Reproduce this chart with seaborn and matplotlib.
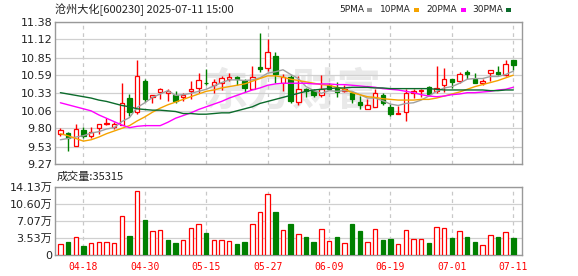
import numpy as np
import matplotlib
matplotlib.use("Agg")
import matplotlib.pyplot as plt
import seaborn as sns
from matplotlib.patches import Rectangle

# ---------------- data ----------------
dates = ["04-15", "04-16", "04-17", "04-18", "04-21", "04-22", "04-23", "04-24", "04-25",
         "04-28", "04-29", "04-30",
         "05-06", "05-07", "05-08", "05-09", "05-12", "05-13", "05-14", "05-15", "05-16",
         "05-19", "05-20", "05-21", "05-22", "05-23", "05-26", "05-27", "05-28", "05-29", "05-30",
         "06-03", "06-04", "06-05", "06-06", "06-09", "06-10", "06-11", "06-12", "06-13",
         "06-16", "06-17", "06-18", "06-19", "06-20", "06-23", "06-24", "06-25", "06-26", "06-27",
         "06-30",
         "07-01", "07-02", "07-03", "07-04", "07-07", "07-08", "07-09", "07-10", "07-11"]

opens = [9.72, 9.73, 9.54, 9.78, 9.68, 9.80, 9.86, 9.82, 9.85, 10.25, 10.05, 10.51, 10.27, 10.34,
         10.33, 10.29, 10.27, 10.36, 10.40, 10.48, 10.45, 10.47, 10.54, 10.56, 10.50, 10.39, 10.71,
         10.70, 10.87, 10.48, 10.57, 10.19, 10.39, 10.35, 10.29, 10.45, 10.40, 10.36, 10.33, 10.19,
         10.09, 10.12, 10.30, 10.12, 10.02, 10.04, 10.32, 10.36, 10.42, 10.35, 10.44, 10.54, 10.50,
         10.63, 10.53, 10.48, 10.62, 10.63, 10.59, 10.82]
closes = [9.78, 9.66, 9.79, 9.69, 9.74, 9.86, 9.88, 9.87, 10.17, 10.05, 10.58, 10.23, 10.29, 10.38,
          10.35, 10.21, 10.29, 10.39, 10.52, 10.47, 10.49, 10.55, 10.57, 10.53, 10.40, 10.56, 10.68,
          10.94, 10.60, 10.56, 10.21, 10.38, 10.35, 10.29, 10.39, 10.39, 10.34, 10.39, 10.23, 10.15,
          10.15, 10.32, 10.18, 10.02, 10.03, 10.32, 10.36, 10.37, 10.31, 10.40, 10.54, 10.49, 10.61,
          10.61, 10.48, 10.50, 10.66, 10.61, 10.75, 10.74]
highs = [9.80, 9.74, 9.87, 9.82, 9.82, 9.87, 9.95, 9.90, 10.47, 10.31, 10.82, 10.54, 10.30, 10.40,
         10.38, 10.35, 10.32, 10.50, 10.62, 10.68, 10.54, 10.58, 10.62, 10.58, 10.53, 10.73, 11.22,
         11.12, 10.93, 10.60, 10.59, 10.58, 10.40, 10.38, 10.59, 10.48, 10.49, 10.44, 10.35, 10.28,
         10.23, 10.39, 10.32, 10.16, 10.13, 10.38, 10.39, 10.38, 10.43, 10.72, 10.69, 10.54, 10.64,
         10.66, 10.62, 10.54, 10.67, 10.72, 10.81, 10.82]
lows = [9.69, 9.46, 9.54, 9.66, 9.66, 9.72, 9.85, 9.79, 9.85, 9.98, 10.01, 10.19, 10.17, 10.23,
        10.21, 10.17, 10.21, 10.23, 10.32, 10.45, 10.32, 10.37, 10.50, 10.45, 10.34, 10.38, 10.64,
        10.65, 10.48, 10.35, 10.17, 10.15, 10.26, 10.27, 10.26, 10.38, 10.27, 10.34, 10.17, 10.09,
        10.09, 10.12, 10.14, 9.99, 10.02, 9.91, 10.25, 10.27, 10.29, 10.32, 10.34, 10.40, 10.48,
        10.53, 10.47, 10.44, 10.50, 10.59, 10.58, 10.66]

ma5 = [9.63, 9.65, 9.67, 9.69, 9.73, 9.75, 9.79, 9.81, 9.90, 9.96, 10.11, 10.18, 10.26, 10.31,
       10.36, 10.29, 10.30, 10.32, 10.35, 10.38, 10.43, 10.48, 10.52, 10.52, 10.51, 10.52, 10.55,
       10.62, 10.64, 10.67, 10.60, 10.54, 10.42, 10.36, 10.32, 10.36, 10.35, 10.36, 10.35, 10.30,
       10.25, 10.25, 10.21, 10.16, 10.14, 10.17, 10.18, 10.22, 10.28, 10.35, 10.40, 10.42, 10.47,
       10.53, 10.54, 10.54, 10.57, 10.57, 10.60, 10.65]
ma10 = [9.72, 9.69, 9.65, 9.61, 9.63, 9.67, 9.72, 9.76, 9.80, 9.84, 9.91, 9.97, 10.04, 10.10,
        10.15, 10.19, 10.23, 10.27, 10.31, 10.35, 10.37, 10.40, 10.42, 10.44, 10.46, 10.50, 10.54,
        10.58, 10.58, 10.56, 10.53, 10.51, 10.49, 10.47, 10.45, 10.44, 10.41, 10.38, 10.33, 10.30,
        10.27, 10.26, 10.24, 10.23, 10.22, 10.22, 10.22, 10.23, 10.23, 10.25, 10.28, 10.31, 10.34,
        10.38, 10.42, 10.45, 10.48, 10.51, 10.55, 10.59]
ma20 = [10.18, 10.15, 10.12, 10.09, 10.06, 10.00, 9.95, 9.90, 9.85, 9.81, 9.83, 9.84, 9.84, 9.84,
        9.89, 9.95, 9.99, 10.03, 10.08, 10.12, 10.16, 10.20, 10.25, 10.29, 10.33, 10.37, 10.40,
        10.44, 10.46, 10.47, 10.47, 10.47, 10.47, 10.46, 10.46, 10.46, 10.45, 10.45, 10.44, 10.43,
        10.42, 10.41, 10.39, 10.38, 10.37, 10.35, 10.33, 10.30, 10.28, 10.27, 10.28, 10.30, 10.31,
        10.33, 10.33, 10.34, 10.35, 10.37, 10.38, 10.41]
ma30 = [10.33, 10.31, 10.29, 10.27, 10.25, 10.22, 10.20, 10.17, 10.14, 10.12, 10.09, 10.08, 10.07,
        10.07, 10.06, 10.05, 10.02, 10.02, 10.01, 10.01, 10.02, 10.03, 10.03, 10.06, 10.09, 10.12,
        10.17, 10.20, 10.23, 10.26, 10.29, 10.32, 10.35, 10.37, 10.38, 10.39, 10.40, 10.40, 10.41,
        10.41, 10.41, 10.40, 10.40, 10.39, 10.39, 10.39, 10.39, 10.39, 10.39, 10.38, 10.37, 10.37,
        10.37, 10.37, 10.37, 10.37, 10.36, 10.36, 10.37, 10.37]

# volume in 万 (10k shares); 1 = up day (red, hollow), 0 = down day (green, filled)
volume = [2.30, 2.71, 3.76, 1.88, 2.51, 2.64, 2.64, 2.51, 8.07, 3.97, 13.36, 7.31, 4.94, 5.15,
          3.06, 2.51, 3.06, 5.57, 6.40, 4.59, 3.06, 3.06, 2.85, 2.30, 2.71, 6.40, 8.91, 12.67, 8.98,
          5.15, 6.47, 4.32, 3.76, 2.71, 5.36, 2.85, 3.76, 2.44, 6.47, 5.01, 2.64, 5.36, 3.13, 3.34,
          2.23, 5.15, 3.27, 3.27, 2.51, 5.78, 5.57, 3.55, 4.94, 3.76, 2.71, 2.02, 4.11, 3.76, 4.73,
          3.5315]
vol_up = [1, 0, 1, 0, 1, 1, 1, 1, 1, 0, 1, 0, 1, 1, 0, 0, 1, 1, 1, 0, 1, 1, 1, 0, 0, 1, 1, 1, 0, 1,
          0, 1, 0, 0, 1, 1, 0, 1, 0, 0, 1, 1, 0, 0, 1, 1, 1, 1, 0, 1, 1, 0, 1, 0, 0, 1, 1, 0, 1, 0]

price_ticks = [11.38, 11.12, 10.85, 10.59, 10.33, 10.06, 9.80, 9.53, 9.27]
price_labels = ["11.38", "11.12", "10.85", "10.59", "10.33", "10.06", "9.80", "9.53", "9.27"]
vol_ticks = [0, 3.53, 7.07, 10.60, 14.13]
vol_labels = ["0", "3.53万", "7.07万", "10.60万", "14.13万"]
date_ticks = ["04-18", "04-30", "05-15", "05-27", "06-09", "06-19", "07-01", "07-11"]

title = "沧州大化[600230] 2025-07-11 15:00"
vol_title = "成交量:35315"
ma_names = ["5PMA", "10PMA", "20PMA", "30PMA"]

# ---------------- style ----------------
sns.set_theme(style="white")
plt.rcParams["font.family"] = ["DejaVu Sans", "Noto Sans CJK SC"]

RED = "#ff0000"
GREEN = "#008000"
MA_COLORS = ["#a0a0a0", "#f5a300", "#ff00ff", "#0b6b2b"]
GRID = "#d0d0d0"
FRAME = "#999999"
TXT = "#222222"

W, H = 578, 276
fig = plt.figure(figsize=(W / 100, H / 100), dpi=100)
fig.patch.set_facecolor("white")

ax = fig.add_axes([55 / W, 1 - 164 / H, (522 - 55) / W, (164 - 22) / H])
axv = fig.add_axes([55 / W, 1 - 255 / H, (522 - 55) / W, (255 - 187) / H])

o = np.array(opens); c = np.array(closes); hi = np.array(highs); lo = np.array(lows)
x = np.arange(len(dates))
up = c >= o
cols = [RED if u else GREEN for u in up]
faces = ["white" if u else GREEN for u in up]

# wicks and bodies
ax.vlines(x, lo, hi, colors=cols, lw=1.0, zorder=3)
ax.bar(x, np.abs(c - o), bottom=np.minimum(o, c), width=0.58, color=faces,
       edgecolor=cols, linewidth=0.9, zorder=4)

# moving averages
for ma, col in zip([ma5, ma10, ma20, ma30], MA_COLORS):
    sns.lineplot(x=x, y=ma, ax=ax, color=col, lw=1.0, zorder=5)

xt = [dates.index(d) for d in date_ticks]
for a in (ax, axv):
    a.set_xlim(-0.7, len(dates) - 1 + 1.13)
    a.set_xticks(xt)
    a.xaxis.grid(True, color="#c8c8c8", ls=(0, (3, 3)), lw=0.9)
    a.yaxis.grid(True, color=GRID, ls="-", lw=0.9)
    a.set_axisbelow(True)
    a.tick_params(length=0)
    a.set_xlabel(""); a.set_ylabel("")
    for s in a.spines.values():
        s.set_color(FRAME)
        s.set_linewidth(1.0)
    a.set_facecolor("white")

ax.set_ylim(9.27, 11.38)
ax.set_yticks(price_ticks)
ax.set_yticklabels(price_labels, fontsize=8, color=TXT)
ax.set_xticklabels([])
ax.tick_params(axis="y", pad=2)

# volume bars
vcols = [RED if u else GREEN for u in vol_up]
vfaces = ["white" if u else GREEN for u in vol_up]
axv.bar(x, volume, width=0.58, color=vfaces, edgecolor=vcols, linewidth=0.9, zorder=3)
axv.set_ylim(0, 14.13)
axv.set_yticks(vol_ticks)
axv.set_yticklabels(vol_labels, fontsize=8, color=TXT)
axv.set_xticklabels(date_ticks, fontsize=7, color=RED, family="DejaVu Sans Mono")
axv.tick_params(axis="y", pad=2)
axv.tick_params(axis="x", pad=5)

# watermark
ax.text(292 / W, 1 - 92 / H, "东方财富", transform=fig.transFigure, ha="center", va="center",
        fontsize=32, color="#e9e9e9", family=["Noto Sans CJK SC"], fontweight="bold", zorder=0.5)

# header texts
fig.text(55 / W, 1 - 10 / H, title, fontsize=8, color=TXT, va="center", ha="left",
         family=["Noto Sans CJK SC", "DejaVu Sans"])
fig.text(57 / W, 1 - 177 / H, vol_title, fontsize=8, color=TXT, va="center", ha="left",
         family=["Noto Sans CJK SC", "DejaVu Sans"])

leg_x = [339, 380, 426, 472]
for name, lx in zip(ma_names, leg_x):
    fig.text(lx / W, 1 - 10 / H, name, fontsize=6.5, color=TXT, va="center", ha="left")
sq_x = [367, 414, 461, 506]
for col, sx in zip(MA_COLORS, sq_x):
    fig.patches.append(Rectangle((sx / W, 1 - 12 / H), 5 / W, 4 / H, transform=fig.transFigure,
                                 facecolor=col, edgecolor="none"))

fig.savefig("out.png", dpi=100, facecolor="white")
